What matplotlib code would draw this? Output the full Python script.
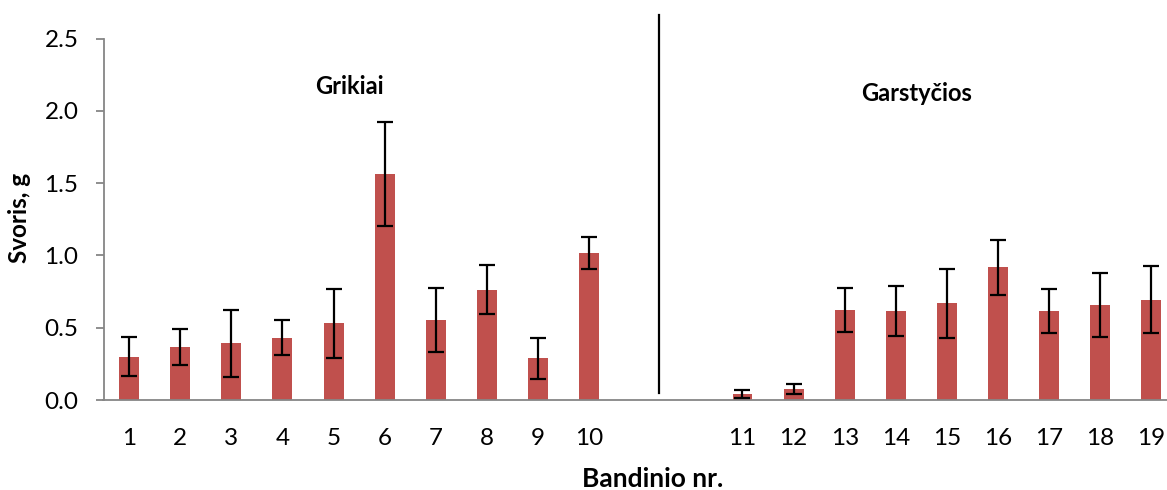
import matplotlib
matplotlib.use("Agg")
import matplotlib.pyplot as plt
import numpy as np

plt.rcParams['font.family'] = ['Lato', 'DejaVu Sans']

# Data
samples = ['1', '2', '3', '4', '5', '6', '7', '8', '9', '10',
           '11', '12', '13', '14', '15', '16', '17', '18', '19']
weights = [0.30, 0.365, 0.392, 0.432, 0.530, 1.566, 0.553, 0.762, 0.288, 1.014,
           0.042, 0.077, 0.622, 0.616, 0.668, 0.918, 0.616, 0.655, 0.695]
errors = [0.136, 0.125, 0.23, 0.12, 0.24, 0.36, 0.22, 0.17, 0.14, 0.11,
          0.025, 0.037, 0.15, 0.17, 0.24, 0.19, 0.15, 0.22, 0.23]
group_names = ['Grikiai', 'Garstyčios']
y_ticks = [0.0, 0.5, 1.0, 1.5, 2.0, 2.5]

# slot positions: two empty slots between groups
pos = np.array(list(range(0, 10)) + list(range(12, 21)), dtype=float)

W, H = 1167, 490
fig = plt.figure(figsize=(W / 100, H / 100), dpi=100)
left_px, right_px = 103.5, 1177
top_px, bot_px = 38.5, 400
ax = fig.add_axes([left_px / W, 1 - bot_px / H,
                   (right_px - left_px) / W, (bot_px - top_px) / H])

bar_color = '#C0504D'
ax.bar(pos, weights, width=0.39, color=bar_color, zorder=2)
ax.errorbar(pos, weights, yerr=errors, fmt='none', ecolor='black',
            elinewidth=1.6, capsize=5.5, capthick=1.6, zorder=3)

ax.set_xlim(-0.5, 20.5)
ax.set_ylim(0, 2.5)
ax.set_yticks(y_ticks)
ax.set_yticklabels([f'{v:.1f}' for v in y_ticks])
ax.set_xticks(pos)
ax.set_xticklabels(samples)

axis_gray = '#868686'
for s in ['top', 'right']:
    ax.spines[s].set_visible(False)
for s in ['left', 'bottom']:
    ax.spines[s].set_color(axis_gray)
    ax.spines[s].set_linewidth(1.3)

ax.tick_params(axis='y', direction='out', length=6, width=1.3, color=axis_gray,
               labelsize=17.5, pad=12, labelcolor='black')
ax.tick_params(axis='x', length=0, labelsize=17.5, pad=20, labelcolor='black')

# separator line between groups
ax.plot([10.37, 10.37], [0.05, 2.66], color='black', lw=1.6, clip_on=False, zorder=4)

# group labels
ax.text(4.32, 2.165, group_names[0], ha='center', va='center',
        fontsize=17, fontweight='bold')
ax.text(15.4, 2.12, group_names[1], ha='center', va='center',
        fontsize=17, fontweight='bold')

fig.text(653 / W, 1 - 479 / H, 'Bandinio nr.', ha='center', va='center',
         fontsize=19, fontweight='bold')
fig.text(20 / W, 1 - 218 / H, 'Svoris, g', ha='center', va='center',
         rotation=90, fontsize=17.5, fontweight='bold')

fig.savefig('out.png', dpi=100)
